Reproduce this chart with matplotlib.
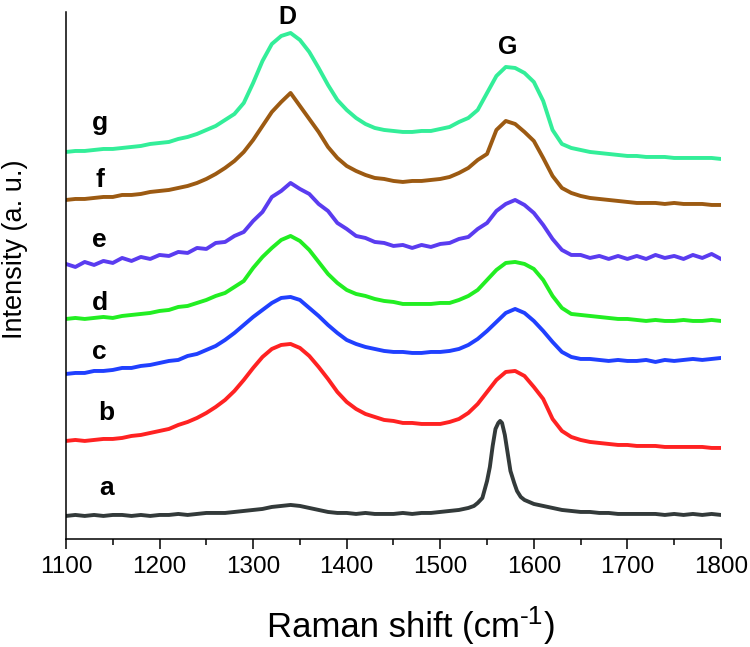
import numpy as np
import matplotlib
matplotlib.use("Agg")
import matplotlib.pyplot as plt
from matplotlib.transforms import IdentityTransform

plt.rcParams["font.family"] = ["Liberation Sans", "DejaVu Sans"]

# Raman shift grid (cm-1), shared by spectra b-g
shift = np.arange(1100, 1801, 10)

# spectra (arbitrary units, already offset)
spec_g = [387, 388, 388, 389, 390, 390, 391, 392, 393, 395,
          396, 397, 400, 402, 405, 409, 413, 419, 425, 436,
          456, 478, 495, 503, 506, 499, 487, 471, 454, 439,
          429, 421, 415, 411, 409, 408, 407, 407, 408, 408,
          410, 412, 417, 421, 429, 446, 463, 472, 471, 466,
          457, 438, 409, 395, 391, 389, 387, 386, 385, 384,
          383, 383, 382, 382, 382, 381, 381, 381, 381, 381,
          380]
spec_f = [339, 340, 340, 341, 342, 342, 344, 344, 345, 347,
          348, 349, 351, 353, 356, 360, 365, 371, 378, 387,
          399, 413, 427, 437, 446, 433, 420, 407, 392, 381,
          373, 368, 364, 361, 360, 358, 357, 358, 358, 359,
          360, 362, 366, 371, 379, 385, 409, 418, 415, 407,
          398, 381, 363, 351, 346, 343, 341, 340, 339, 338,
          337, 336, 336, 336, 335, 336, 335, 335, 335, 334,
          334]
spec_e = [275, 272, 277, 274, 278, 276, 281, 278, 282, 280,
          284, 283, 287, 286, 291, 290, 296, 297, 303, 307,
          318, 327, 342, 348, 356, 350, 345, 335, 328, 316,
          310, 303, 301, 297, 296, 293, 294, 291, 294, 292,
          295, 296, 300, 302, 310, 316, 328, 335, 339, 334,
          326, 314, 300, 289, 284, 284, 281, 283, 280, 283,
          280, 283, 280, 284, 281, 283, 280, 284, 281, 285,
          280]
spec_d = [220, 221, 220, 221, 222, 221, 223, 224, 225, 226,
          228, 229, 232, 233, 236, 239, 243, 246, 252, 258,
          271, 282, 291, 299, 303, 298, 289, 277, 265, 256,
          249, 245, 243, 240, 238, 237, 235, 235, 235, 235,
          236, 236, 239, 243, 249, 259, 269, 276, 277, 275,
          270, 259, 243, 231, 225, 224, 223, 222, 221, 220,
          220, 219, 218, 219, 218, 218, 219, 218, 218, 219,
          218]
spec_c = [165, 166, 166, 168, 168, 169, 171, 171, 173, 174,
          176, 178, 179, 183, 185, 189, 193, 199, 206, 214,
          222, 229, 236, 241, 242, 239, 231, 223, 214, 206,
          199, 195, 192, 190, 188, 187, 187, 186, 186, 187,
          187, 188, 190, 194, 200, 208, 217, 226, 230, 226,
          218, 208, 197, 187, 182, 180, 180, 179, 178, 179,
          178, 178, 179, 177, 179, 178, 179, 180, 179, 180,
          181]
spec_b = [98, 99, 98, 99, 100, 100, 101, 103, 104, 106,
          108, 110, 114, 117, 121, 126, 132, 139, 148, 159,
          171, 182, 190, 194, 195, 191, 183, 172, 160, 147,
          137, 130, 125, 122, 119, 118, 116, 116, 115, 115,
          115, 117, 120, 126, 135, 147, 159, 167, 168, 163,
          152, 140, 120, 108, 102, 99, 97, 96, 95, 94,
          94, 93, 93, 93, 92, 92, 92, 92, 92, 91,
          91]

# spectrum a has a narrow G band, so it is sampled more finely there
shift_a = [1100, 1110, 1120, 1130, 1140, 1150, 1160, 1170, 1180, 1190,
           1200, 1210, 1220, 1230, 1240, 1250, 1260, 1270, 1280, 1290,
           1300, 1310, 1320, 1330, 1340, 1350, 1360, 1370, 1380, 1390,
           1400, 1410, 1420, 1430, 1440, 1450, 1460, 1470, 1480, 1490,
           1500, 1510, 1520, 1530, 1536, 1540, 1545, 1550, 1553, 1556,
           1559, 1562, 1564, 1566, 1569, 1572, 1575, 1579, 1582, 1586,
           1590, 1600, 1610, 1620, 1630, 1640, 1650, 1660, 1670, 1680,
           1690, 1700, 1710, 1720, 1730, 1740, 1750, 1760, 1770, 1780,
           1790, 1800]
spec_a = [23, 24, 23, 24, 23, 24, 24, 23, 24, 23,
          24, 24, 25, 24, 25, 26, 26, 26, 27, 28,
          29, 30, 32, 33, 34, 33, 31, 29, 27, 26,
          26, 25, 26, 25, 25, 25, 26, 25, 26, 26,
          27, 28, 29, 31, 33, 36, 41, 58, 72, 93,
          110, 116, 118, 116, 104, 86, 68, 56, 48, 42,
          39, 35, 33, 31, 29, 28, 27, 27, 26, 26,
          25, 25, 25, 25, 25, 24, 25, 24, 25, 24,
          25, 24]

names = ["a", "b", "c", "d", "e", "f", "g"]
colors = ["#333a3a", "#ff2222", "#2040ff", "#22ee22", "#5a3cf0", "#9c5a12", "#33ee99"]
label_x = [1143, 1143, 1136, 1136, 1136, 1136, 1136]
label_y = [51, 126, 187, 236, 299, 359, 416]

fig = plt.figure(figsize=(7.5, 6.47), dpi=100)
ax = fig.add_axes([0.088, 0.167, 0.8733, 0.8145])

series = [(shift_a, spec_a)] + [(shift, s) for s in
                                 (spec_b, spec_c, spec_d, spec_e, spec_f, spec_g)]
for (xs, ys), col in zip(series, colors):
    ax.plot(xs, ys, color=col, linewidth=2.8, solid_joinstyle="round")

for n, lx, ly in zip(names, label_x, label_y):
    ax.text(lx, ly, n, fontsize=19, fontweight="bold", ha="center", va="center")

ax.text(1337, 522, "D", fontsize=18, fontweight="bold", ha="center", va="center", clip_on=False)
ax.text(1572, 492, "G", fontsize=18, fontweight="bold", ha="center", va="center")

ax.set_xlim(1100, 1800)
ax.set_ylim(0, 527)
ax.set_xticks(np.arange(1100, 1801, 100))
ax.set_xticks(np.arange(1150, 1800, 100), minor=True)
ax.set_yticks([])
ax.tick_params(axis="x", which="major", direction="out", length=7, width=1.1,
               labelsize=17.5, pad=5)
ax.tick_params(axis="x", which="minor", direction="out", length=4, width=1.1)
for side in ("top", "right"):
    ax.spines[side].set_visible(False)
for side in ("left", "bottom"):
    ax.spines[side].set_linewidth(1.1)

# y label placed in pixels, centred where the original has it
fig.text(15, 647 - 249, "Intensity (a. u.)", fontsize=19.5, rotation=90,
         ha="center", va="center", transform=IdentityTransform())

# x label built in pieces so the superscript can be as large as in the original
r = fig.canvas.get_renderer()
parts = [("Raman shift (cm", 25, 0), ("-1", 19, 13), (")", 25, 0)]
pieces = []
total = 0
for s, fs, dy in parts:
    t = fig.text(0, 0, s, fontsize=fs, ha="left", va="baseline",
                 transform=IdentityTransform())
    w = t.get_window_extent(r).width
    pieces.append((t, w, dy))
    total += w
x0 = 411 - total / 2
base = 647 - 637
for t, w, dy in pieces:
    t.set_position((x0, base + dy))
    x0 += w

fig.savefig("out.png", dpi=100)
